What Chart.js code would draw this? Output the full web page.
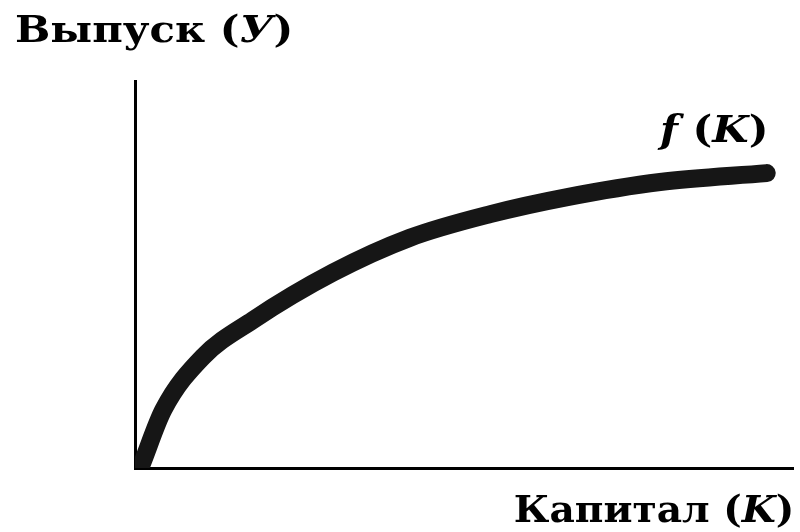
<!DOCTYPE html>
<html>
<head>
<meta charset="utf-8">
<script src="https://cdn.jsdelivr.net/npm/chart.js@4/dist/chart.umd.min.js"></script>
<style>
  html, body { margin: 0; padding: 0; background: #fff; }
  #wrap { position: relative; width: 800px; height: 532px; overflow: hidden; }
  .lbl {
    position: absolute; white-space: nowrap; color: #000;
    font-family: "DejaVu Serif", "Liberation Serif", serif; font-weight: bold;
    font-size: 38px; line-height: 1;
    transform: scaleX(1.1); transform-origin: left top;
  }
  .lbl i { font-style: italic; }
  #xtitle { transform: scaleX(1.03); transform-origin: right top; }
</style>
</head>
<body>
<div id="wrap">
  <canvas id="chart" width="800" height="532"></canvas>
  <div class="lbl" id="ytitle" style="left:15px; top:10px;">Выпуск (<i>У</i>)</div>
  <div class="lbl" id="curveLabel" style="left:660px; top:110px;"><i>f</i> (<i>K</i>)</div>
  <div class="lbl" id="xtitle" style="right:6px; top:490px;">Капитал (<i>K</i>)</div>
</div>
<script>
'use strict';

// capital K (x) and output Y = f(K) (0..100 on both axes)
const capital = [1.1, 4.3, 10.3, 17.9, 30.1, 41.8, 54.0, 65.7, 79.8, 96.0];
const output  = [1.3, 15.0, 28.7, 38.2, 50.5, 59.5, 65.6, 70.0, 73.9, 76.2];

const curve = capital.map((k, i) => ({ x: k, y: output[i] }));

function axisOptions() {
  return {
    type: 'linear',
    min: 0,
    max: 100,
    grid: { display: false, drawTicks: false },
    border: { display: true, width: 3, color: '#000' },
    ticks: { display: false }
  };
}

new Chart(document.getElementById('chart'), {
  type: 'line',
  data: {
    datasets: [{
      data: curve,
      borderColor: '#161616',
      borderWidth: 18,
      borderCapStyle: 'round',
      borderJoinStyle: 'round',
      cubicInterpolationMode: 'monotone',
      pointRadius: 0,
      fill: false,
      clip: { left: 0, bottom: 0, top: 20, right: 20 }
    }]
  },
  options: {
    responsive: false,
    animation: false,
    layout: { padding: { left: 135, top: 81, right: 7, bottom: 64 } },
    plugins: { legend: { display: false }, tooltip: { enabled: false } },
    scales: { x: axisOptions(), y: axisOptions() }
  }
});
</script>
</body>
</html>
